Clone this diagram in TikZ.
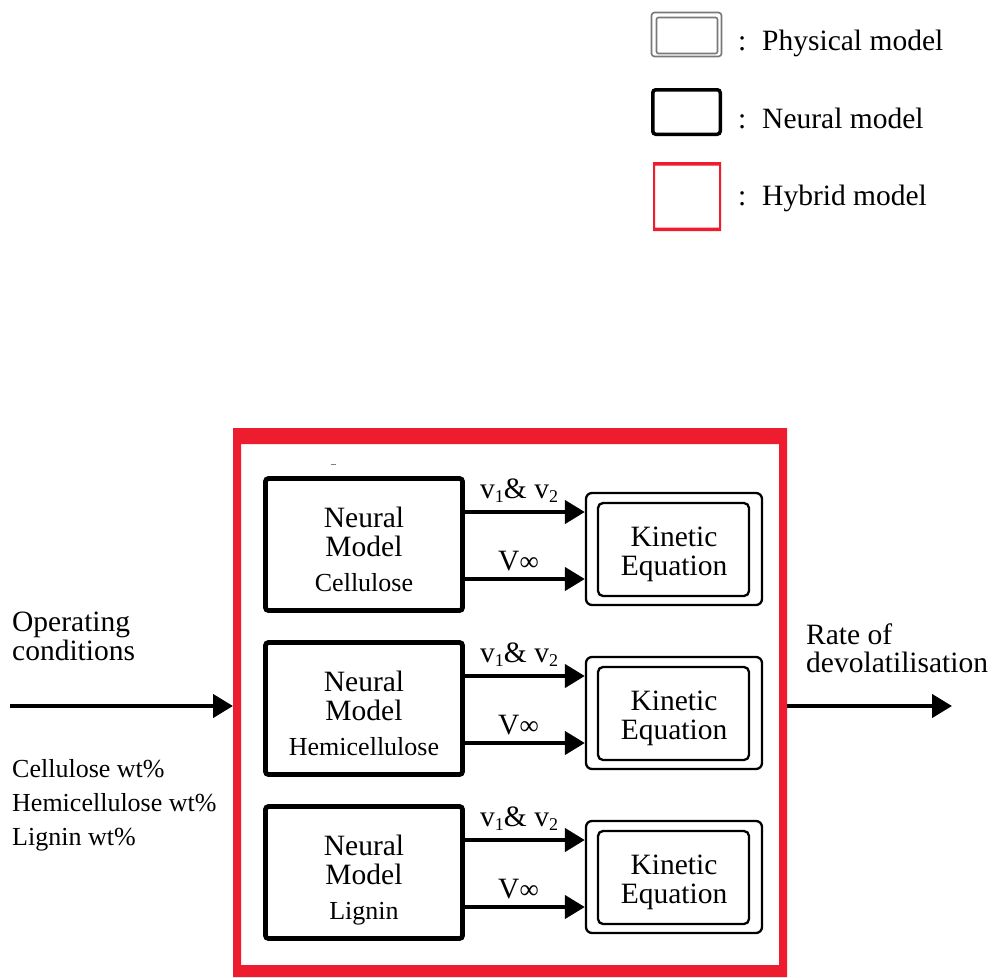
\documentclass[tikz,border=0pt]{standalone}
\usepackage{fontspec}
\setmainfont{Liberation Serif}
\usetikzlibrary{arrows.meta,calc}
\definecolor{hred}{RGB}{237,28,46}
\definecolor{pgray}{RGB}{120,120,120}
\begin{document}
\begin{tikzpicture}[x=1pt,y=-1pt,
  big/.style={font=\fontsize{29.5pt}{34pt}\selectfont, inner sep=0pt},
  small/.style={font=\fontsize{26pt}{30pt}\selectfont, inner sep=0pt},
  nbox/.style={draw, line width=4.8pt, rounded corners=3pt, minimum width=197pt, minimum height=132pt, inner sep=0pt},
  kouter/.style={draw, line width=2.3pt, rounded corners=6pt, minimum width=176pt, minimum height=112pt, inner sep=0pt},
  kinner/.style={draw, line width=2.3pt, rounded corners=5pt, minimum width=151pt, minimum height=93pt, inner sep=0pt},
  arr/.style={line width=4.3pt, -{Triangle[length=20pt,width=23pt]}},
]
\fill[white] (0,0) rectangle (993,977);
\useasboundingbox (0,0) rectangle (993,977);

% legend
\node[draw=pgray, line width=1.6pt, rounded corners=3pt, minimum width=70pt, minimum height=44pt, inner sep=0pt] (lp) at (686.5,34.5) {};
\node[draw=pgray, line width=1.6pt, rounded corners=2pt, minimum width=61pt, minimum height=36pt, inner sep=0pt] (lpi) at (687,35.5) {};
\node[draw, line width=3.5pt, rounded corners=3pt, minimum width=67.5pt, minimum height=44.5pt, inner sep=0pt] (ln) at (686.5,112) {};
\node[minimum width=68pt, minimum height=69pt, inner sep=0pt, outer sep=0pt] (lh) at (687,196.5) {};
\fill[hred, even odd rule] (lh.north west) rectangle (lh.south east)
  ([shift={(2pt,-3.5pt)}]lh.north west) rectangle ([shift={(-2pt,3.5pt)}]lh.south east);
\node[big, anchor=base west] (c1) at (738,50) {:};
\node[big, anchor=base west] (t1) at (762,50) {Physical model};
\node[big, anchor=base west] (c2) at (738,128) {:};
\node[big, anchor=base west] (t2) at (762,128) {Neural model};
\node[big, anchor=base west] (c3) at (738,205) {:};
\node[big, anchor=base west] (t3) at (762,205) {Hybrid model};

% hybrid frame
\node[minimum width=554pt, minimum height=549pt, inner sep=0pt, outer sep=0pt] (hyb) at (510,702.5) {};
\fill[hred, even odd rule] (hyb.north west) rectangle (hyb.south east)
  ([shift={(8pt,-16pt)}]hyb.north west) rectangle ([shift={(-8pt,12pt)}]hyb.south east);
\draw[gray, line width=1pt] (331,464) -- (336,464);

% three rows
\foreach \i/\d/\name in {1/0/Cellulose, 2/164/Hemicellulose, 3/328/Lignin}{
  \node[nbox] (n\i) at (364,544.5+\d) {};
  \node[big, anchor=base] (na\i) at (364,527+\d) {Neural};
  \node[big, anchor=base] (nb\i) at (364,556+\d) {Model};
  \node[small, anchor=base] (nc\i) at (364,591+\d) {\name};
  \node[kouter] (k\i) at (674,549+\d) {};
  \node[kinner] (ki\i) at (673.5,549.5+\d) {};
  \node[big, anchor=base] (ka\i) at (674,546+\d) {Kinetic};
  \node[big, anchor=base] (kb\i) at (674,575+\d) {Equation};
  \draw[arr] ([yshift=32.5pt]n\i.east) -- ([yshift=32.5pt]n\i.east -| k\i.west);
  \draw[arr] ([yshift=-34.5pt]n\i.east) -- ([yshift=-34.5pt]n\i.east -| k\i.west);
  \node[big, anchor=base west] (va\i) at (480,498+\d) {v\raisebox{-4pt}{\fontsize{18pt}{20pt}\selectfont 1}\& v\raisebox{-4pt}{\fontsize{18pt}{20pt}\selectfont 2}};
  \node[big, anchor=base west] (vb\i) at (498,570+\d) {V\fontsize{27pt}{30pt}\selectfont ∞};
}

% input / output
\coordinate (in) at (10,706);
\draw[arr] (in) -- (in -| hyb.west);
\coordinate (out) at (952,706);
\draw[arr] (hyb.east |- out) -- (out);

\node[big, anchor=base west] (op1) at (12,631) {Operating};
\node[big, anchor=base west] (op2) at (12,660) {conditions};
\node[small, anchor=base west] (w1) at (12,777) {Cellulose wt\%};
\node[small, anchor=base west] (w2) at (12,811) {Hemicellulose wt\%};
\node[small, anchor=base west] (w3) at (12,845) {Lignin wt\%};
\node[big, anchor=base west] (r1) at (806,644) {Rate of};
\node[big, anchor=base west] (r2) at (806,672) {devolatilisation};
\end{tikzpicture}
\end{document}
